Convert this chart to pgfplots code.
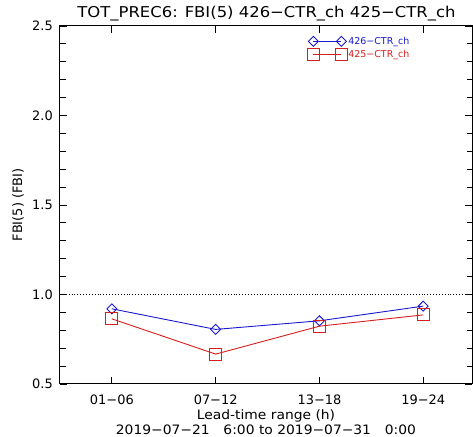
\documentclass[border=0pt]{standalone}
\usepackage{pgfplots}
\pgfplotsset{compat=1.18}
\usepackage{fontspec}
\setmainfont{DejaVu Sans}
\definecolor{idlblue}{RGB}{25,25,205}
\definecolor{idlred}{RGB}{215,30,30}
\begin{document}
\begin{tikzpicture}
\useasboundingbox (0bp,0bp) rectangle (473bp,437bp);
\begin{axis}[
  at={(60bp,53bp)}, anchor=south west,
  scale only axis, width=412bp, height=358bp,
  xmin=0.5, xmax=4.47, ymin=0.5, ymax=2.5,
  xtick={1,2,3,4},
  xticklabels={01−06,07−12,13−18,19−24},
  ytick={0.5,1.0,1.5,2.0,2.5},
  minor y tick num=4,
  /pgf/number format/assume math mode=true,
  y tick label style={/pgf/number format/fixed, /pgf/number format/fixed zerofill, /pgf/number format/precision=1,
     anchor=east, inner sep=0pt, xshift=-7bp},
  x tick label style={anchor=center, yshift=-16bp},
  tick label style={font=\fontsize{13}{15}\selectfont},
  major tick length=7bp, minor tick length=5.5bp,
  tick style={black, line width=0.8bp},
  axis line style={line width=1bp},
  xlabel={\scalebox{1.07}[1]{Lead-time range (h)}},
  xlabel style={at={(axis description cs:0.5,-0.0894)}, anchor=center, font=\fontsize{13}{15}\selectfont, inner sep=0pt},
  ylabel={FBI(5) (FBI)},
  ylabel style={at={(axis description cs:-0.102,0.5)}, anchor=center, font=\fontsize{13}{15}\selectfont, inner sep=0pt},
  legend style={at={(axis description cs:0.600,0.9375)}, anchor=west, draw=none, fill=none,
     font=\fontsize{9.5}{11}\selectfont, inner sep=0pt, row sep=2bp,
     nodes={inner sep=1bp},
     /tikz/every even column/.append style={column sep=2bp}},
  legend cell align=left,
  legend image code/.code={\draw[#1] plot coordinates {(0bp,0bp) (28bp,0bp)};},
]
\addplot[black, dotted, line width=0.9bp, forget plot] coordinates {(0.5,1) (4.47,1)};
\addplot[idlblue, line width=0.9bp, mark=diamond, mark size=5bp, mark options={xscale=1.33, solid}]
  coordinates {(1,0.920) (2,0.805) (3,0.853) (4,0.935)};
\addlegendentry{\textcolor{idlblue}{426−CTR\_ch}}
\addplot[idlred, line width=0.9bp, mark=square, mark size=6bp, mark options={solid}]
  coordinates {(1,0.864) (2,0.667) (3,0.823) (4,0.886)};
\addlegendentry{\textcolor{idlred}{425−CTR\_ch}}
\end{axis}
\node[font=\fontsize{15}{17}\selectfont, anchor=center] at (266.5bp,423.5bp) {\scalebox{1.1}[1]{TOT\_PREC6: FBI(5) 426−CTR\_ch 425−CTR\_ch}};
\node[font=\fontsize{13}{15}\selectfont, anchor=center] at (266bp,7bp) {\scalebox{1.07}[1]{2019−07−21\hspace{1em}6:00 to 2019−07−31\hspace{1em}0:00}};
\end{tikzpicture}
\end{document}
